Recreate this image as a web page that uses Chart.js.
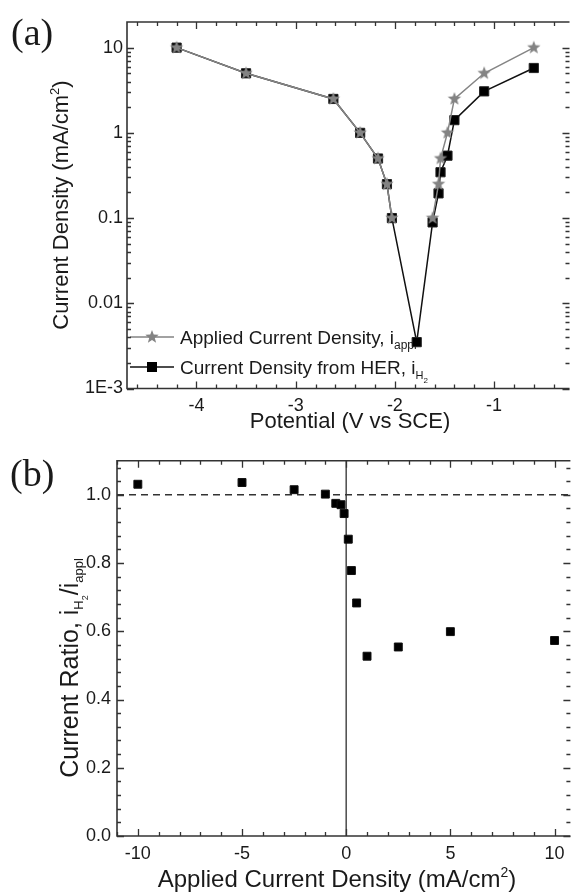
<!DOCTYPE html>
<html>
<head>
<meta charset="utf-8">
<script src="https://cdn.jsdelivr.net/npm/chart.js@4"></script>
<style>
  html, body { margin: 0; padding: 0; background: #fff; }
  #wrap { position: relative; width: 577px; height: 896px; overflow: hidden; }
  canvas { position: absolute; left: 0; }
</style>
</head>
<body>
<div id="wrap">
  <canvas id="chartA" width="577" height="440" style="top:0"></canvas>
  <canvas id="chartB" width="577" height="456" style="top:440px"></canvas>
</div>
<script>
// (a) potential vs current density
const potentialAppl = [-4.2, -3.5, -2.62, -2.35, -2.17, -2.08, -2.03, -1.78, -1.62, -1.56, -1.54, -1.47, -1.4, -1.1, -0.6];
const currentAppl   = [10, 5, 2.5, 1, 0.5, 0.25, 0.1, null, 0.1, 0.25, 0.5, 1, 2.5, 5, 10];
const potentialHER  = [-4.2, -3.5, -2.62, -2.35, -2.17, -2.08, -2.03, -1.78, -1.62, -1.56, -1.54, -1.47, -1.4, -1.1, -0.6];
const currentHER    = [10, 5, 2.5, 1, 0.5, 0.25, 0.1, 0.0035, 0.089, 0.195, 0.345, 0.54, 1.41, 3.07, 5.77];
const xTicksA = [-4, -3, -2, -1];
const xTickLabelsA = ['-4', '-3', '-2', '-1'];
const yTicksA = [0.001, 0.01, 0.1, 1, 10];
const yTickLabelsA = ['1E-3', '0.01', '0.1', '1', '10'];

// (b) current ratio vs applied current density
const appliedB = [-10, -5, -2.5, -1, -0.5, -0.25, -0.1, 0.1, 0.25, 0.5, 1, 2.5, 5, 10];
const ratioB   = [1.031, 1.036, 1.015, 1.002, 0.975, 0.971, 0.945, 0.870, 0.778, 0.683, 0.527, 0.554, 0.599, 0.573];
const xTicksB = [-10, -5, 0, 5, 10];
const xTickLabelsB = ['-10', '-5', '0', '5', '10'];
const yTicksB = [0, 0.2, 0.4, 0.6, 0.8, 1.0];
const yTickLabelsB = ['0.0', '0.2', '0.4', '0.6', '0.8', '1.0'];
const unityLine = [1, 1];
const zeroLine = [0, 0];

const FONT = '"Liberation Sans", Arial, sans-serif';
const TEXT = '#1a1a1a';
Chart.defaults.font.family = FONT;
Chart.defaults.color = TEXT;

function toPoints(xs, ys) {
    return xs.map((x, i) => ({ x: x, y: ys[i] }));
}

// five pointed star used as point style
function makeStar(r, color) {
    const c = document.createElement('canvas');
    const s = Math.ceil(r * 2 + 2);
    c.width = c.height = s;
    const g = c.getContext('2d');
    g.beginPath();
    for (let i = 0; i < 10; i++) {
        const rad = i % 2 ? r * 0.42 : r;
        const a = -Math.PI / 2 + i * Math.PI / 5;
        g.lineTo(s / 2 + rad * Math.cos(a), s / 2 + rad * Math.sin(a));
    }
    g.closePath();
    g.fillStyle = color;
    g.fill();
    return c;
}
const starImg = makeStar(7, '#838383');

// text with sub/superscripts: parts = [text, size, dy]
function drawRich(ctx, parts, x, y, align) {
    let total = 0;
    parts.forEach(p => { ctx.font = p[1] + 'px ' + FONT; total += ctx.measureText(p[0]).width; });
    let cx = align === 'center' ? x - total / 2 : x;
    parts.forEach(p => {
        ctx.font = p[1] + 'px ' + FONT;
        ctx.fillText(p[0], cx, y + p[2]);
        cx += ctx.measureText(p[0]).width;
    });
}

// inward ticks on all four sides plus frame
function framePlugin(cfg) {
    return {
        id: 'frame',
        afterDatasetsDraw(chart) {
            const { ctx, chartArea: a, scales: { x, y } } = chart;
            ctx.save();
            ctx.strokeStyle = '#333';
            ctx.lineWidth = 1.3;
            ctx.beginPath();
            const xt = (v, len) => {
                const p = Math.round(x.getPixelForValue(v)) + 0.5;
                ctx.moveTo(p, a.bottom); ctx.lineTo(p, a.bottom - len);
                ctx.moveTo(p, a.top); ctx.lineTo(p, a.top + len);
            };
            const yt = (v, len) => {
                const p = Math.round(y.getPixelForValue(v)) + 0.5;
                ctx.moveTo(a.left, p); ctx.lineTo(a.left + len, p);
                ctx.moveTo(a.right, p); ctx.lineTo(a.right - len, p);
            };
            cfg.xMinor.forEach(v => xt(v, 4));
            cfg.xMajor.forEach(v => xt(v, 7));
            cfg.yMinor.forEach(v => yt(v, 4));
            cfg.yMajor.forEach(v => yt(v, 7));
            ctx.stroke();
            ctx.lineWidth = 1.6;
            ctx.beginPath();
            ctx.moveTo(a.right, a.top); ctx.lineTo(a.left, a.top);
            ctx.lineTo(a.left, a.bottom); ctx.lineTo(a.right, a.bottom);
            ctx.stroke();
            ctx.restore();
        }
    };
}

function range(from, to, step) {
    const out = [];
    for (let v = from; v <= to + 1e-9; v += step) out.push(Math.round(v * 1000) / 1000);
    return out;
}
function logMinors(lo, hi) {
    const out = [];
    for (let e = -3; e <= 1; e++) {
        for (let k = 2; k <= 9; k++) {
            const v = k * Math.pow(10, e);
            if (v > lo && v < hi) out.push(v);
        }
    }
    return out;
}

const tickFont = { family: FONT, size: 18 };

// text for panel (a): label, titles, legend
const textA = {
    id: 'textA',
    beforeDatasetsDraw(chart) {
        const ctx = chart.ctx;
        ctx.save();
        ctx.fillStyle = TEXT;
        ctx.textBaseline = 'alphabetic';
        // legend
        const rows = [
            { y: 337, color: '#838383', star: true, parts: [['Applied Current Density, i', 19, 0], ['appl', 12, 5]] },
            { y: 367, color: '#111', star: false, parts: [['Current Density from HER, i', 19, 0], ['H', 11, 5], ['2', 8, 9]] }
        ];
        rows.forEach(r => {
            ctx.strokeStyle = r.color;
            ctx.lineWidth = 1.5;
            ctx.beginPath();
            ctx.moveTo(130, r.y); ctx.lineTo(174, r.y);
            ctx.stroke();
            if (r.star) {
                ctx.drawImage(starImg, 152 - starImg.width / 2, r.y - starImg.height / 2);
            } else {
                ctx.fillStyle = '#000';
                ctx.fillRect(147, r.y - 5, 10, 10);
            }
            ctx.fillStyle = TEXT;
            drawRich(ctx, r.parts, 180, r.y + 7, 'left');
        });
        ctx.restore();
    },
    afterDraw(chart) {
        const ctx = chart.ctx;
        ctx.save();
        ctx.fillStyle = TEXT;
        ctx.font = '38px "Liberation Serif", serif';
        ctx.fillText('(a)', 11, 45);
        drawRich(ctx, [['Potential (V vs SCE)', 22, 0]], 350, 428, 'center');
        ctx.translate(68, 205);
        ctx.rotate(-Math.PI / 2);
        drawRich(ctx, [['Current Density (mA/cm', 22, 0], ['2', 13, -9], [')', 22, 0]], 0, 0, 'center');
        ctx.restore();
    }
};

const textB = {
    id: 'textB',
    afterDraw(chart) {
        const ctx = chart.ctx;
        ctx.save();
        ctx.fillStyle = TEXT;
        ctx.font = '38px "Liberation Serif", serif';
        ctx.fillText('(b)', 10, 46);
        drawRich(ctx, [['Applied Current Density (mA/cm', 24, 0], ['2', 14, -10], [')', 24, 0]], 337, 447, 'center');
        ctx.translate(78, 228);
        ctx.rotate(-Math.PI / 2);
        drawRich(ctx, [['Current Ratio, i', 25, 0], ['H', 13, 5], ['2', 9, 10], ['/i', 25, 0], ['appl', 13, 5]], 0, 0, 'center');
        ctx.restore();
    }
};

function createPolarisationChart() {
    new Chart(document.getElementById('chartA'), {
        type: 'scatter',
        data: {
            datasets: [{
                label: 'Applied Current Density',
                data: toPoints(potentialAppl, currentAppl),
                showLine: true,
                spanGaps: false,
                borderColor: '#858585',
                borderWidth: 1.5,
                pointStyle: starImg,
                pointRadius: 6
            }, {
                label: 'Current Density from HER',
                data: toPoints(potentialHER, currentHER),
                showLine: true,
                borderColor: '#111',
                borderWidth: 1.5,
                pointStyle: 'rect',
                pointRadius: 6.5,
                pointBackgroundColor: '#000',
                pointBorderColor: '#222',
                pointBorderWidth: 1
            }]
        },
        options: {
            responsive: false,
            animation: false,
            layout: { padding: { top: 22, right: 0, bottom: 0, left: 0 } },
            plugins: { legend: { display: false }, tooltip: { enabled: false } },
            scales: {
                x: {
                    type: 'linear', min: -4.7, max: -0.24,
                    afterBuildTicks: s => { s.ticks = xTicksA.map(v => ({ value: v })); },
                    afterFit: s => { s.height = 51.5; },
                    grid: { display: false, drawTicks: false },
                    border: { display: false },
                    ticks: { font: tickFont, color: TEXT, padding: 7, autoSkip: false, maxRotation: 0,
                             callback: (v, i) => xTickLabelsA[i] }
                },
                y: {
                    type: 'logarithmic', min: 0.001, max: 20,
                    afterBuildTicks: s => { s.ticks = yTicksA.map(v => ({ value: v })); },
                    afterFit: s => { s.width = 127; },
                    grid: { display: false, drawTicks: false },
                    border: { display: false },
                    ticks: { font: tickFont, color: TEXT, padding: 4, autoSkip: false,
                             callback: (v, i) => yTickLabelsA[i] }
                }
            }
        },
        plugins: [textA, framePlugin({
            xMajor: xTicksA, xMinor: range(-4.6, -0.4, 0.2),
            yMajor: yTicksA, yMinor: logMinors(0.001, 20)
        })]
    });
}

function createRatioChart() {
    new Chart(document.getElementById('chartB'), {
        type: 'scatter',
        data: {
            datasets: [{
                label: 'Ratio',
                data: toPoints(appliedB, ratioB),
                pointStyle: 'rect',
                pointRadius: 5.6,
                pointBackgroundColor: '#000',
                pointBorderColor: '#111',
                pointBorderWidth: 1
            }, {
                label: 'unity',
                data: toPoints([-11, 10.76], unityLine),
                showLine: true,
                borderColor: '#333',
                borderWidth: 1.5,
                borderDash: [7, 5],
                pointRadius: 0
            }, {
                label: 'zero',
                data: toPoints(zeroLine, [0, 1.1]),
                showLine: true,
                borderColor: '#555',
                borderWidth: 1.6,
                pointRadius: 0
            }]
        },
        options: {
            responsive: false,
            animation: false,
            layout: { padding: { top: 20.7, right: 0, bottom: 0, left: 0 } },
            plugins: { legend: { display: false }, tooltip: { enabled: false } },
            scales: {
                x: {
                    type: 'linear', min: -11, max: 10.76,
                    afterBuildTicks: s => { s.ticks = xTicksB.map(v => ({ value: v })); },
                    afterFit: s => { s.height = 60; },
                    grid: { display: false, drawTicks: false },
                    border: { display: false },
                    ticks: { font: tickFont, color: TEXT, padding: 7, autoSkip: false, maxRotation: 0,
                             callback: (v, i) => xTickLabelsB[i] }
                },
                y: {
                    type: 'linear', min: 0, max: 1.1,
                    afterBuildTicks: s => { s.ticks = yTicksB.map(v => ({ value: v })); },
                    afterFit: s => { s.width = 117; },
                    grid: { display: false, drawTicks: false },
                    border: { display: false },
                    ticks: { font: tickFont, color: TEXT, padding: 6, autoSkip: false,
                             callback: (v, i) => yTickLabelsB[i] }
                }
            }
        },
        plugins: [textB, framePlugin({
            xMajor: xTicksB, xMinor: range(-11, 10, 1),
            yMajor: yTicksB, yMinor: range(0.04, 1.08, 0.04)
        })]
    });
}

createPolarisationChart();
createRatioChart();
</script>
</body>
</html>
